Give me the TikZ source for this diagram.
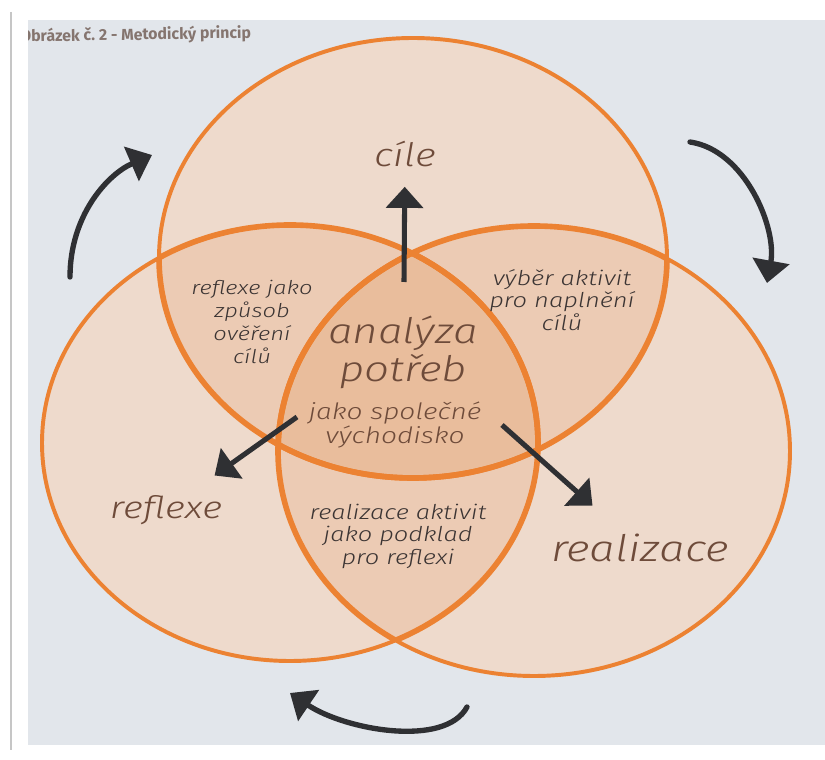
\documentclass[tikz,border=0pt]{standalone}
\usepackage{fontspec}
\usepackage[HTML]{xcolor}
\usepackage{tikz}
\usetikzlibrary{positioning, arrows.meta}

\newfontfamily\handfont{Fira Sans Light}
\newfontfamily\titlefont{Fira Sans}
\newcommand{\handsize}[2]{\handfont\itshape\fontsize{#1}{#2}\selectfont}

\definecolor{paper}{HTML}{E2E6EB}
\definecolor{onefill}{HTML}{EEDACC}
\definecolor{twofill}{HTML}{ECCBB4}
\definecolor{threefill}{HTML}{E9BD9C}
\definecolor{ringorange}{HTML}{EC8232}
\definecolor{inkbrown}{HTML}{6E4B3A}
\definecolor{inkgray}{HTML}{3B3433}
\definecolor{arrowgray}{HTML}{2F3033}
\definecolor{titlegray}{HTML}{85756F}

% the three rings
\newcommand{\goalring}{(cgoal) ellipse [x radius=254, y radius=220]}
\newcommand{\reflectring}{(creflect) ellipse [x radius=248, y radius=218]}
\newcommand{\realizering}{(crealize) ellipse [x radius=256, y radius=225]}

\begin{document}
\begin{tikzpicture}[x=0.025cm, y=-0.025cm,
  ringline/.style={draw=ringorange, line width=2.8pt},
  keyword/.style={text=inkbrown, xscale=1.25, inner sep=0pt, align=center},
  note/.style={text=inkgray, xscale=1.25, inner sep=0pt, align=center},
  pointer/.style={draw=arrowgray, line width=3.6pt, -{Triangle[length=15pt, width=26pt]}},
  turn/.style={draw=arrowgray, line width=3.8pt, line cap=round, -{Triangle[length=16pt, width=26pt]}}]

% Page and photo
\useasboundingbox (0,0) rectangle (825,760);
\fill[white] (0,0) rectangle (825,760);
\fill[paper] (28,20) rectangle (825,745);
\draw[gray!45, line width=0.8pt] (11,12) -- (11,750);

% Centres of the rings
\coordinate (cgoal) at (413,258);
\coordinate (creflect) at (290,443);
\coordinate (crealize) at (534,451);

% Fill the rings and their overlaps
\fill[onefill] \goalring \reflectring \realizering;
\begin{scope}
  \clip \goalring;
  \fill[twofill] \reflectring \realizering;
\end{scope}
\begin{scope}
  \clip \reflectring;
  \fill[twofill] \realizering;
\end{scope}
\begin{scope}
  \clip \goalring;
  \clip \reflectring;
  \fill[threefill] \realizering;
\end{scope}

% Outlines, heavier inside
\draw[ringline] \goalring \reflectring \realizering;
\begin{scope}
  \clip \goalring;
  \draw[ringline, line width=4pt] \reflectring \realizering;
\end{scope}
\begin{scope}
  \clip \reflectring;
  \draw[ringline, line width=4pt] \goalring \realizering;
\end{scope}
\begin{scope}
  \clip \realizering;
  \draw[ringline, line width=4pt] \goalring \reflectring;
\end{scope}

% Caption, cut at the edge of the photo
\begin{scope}
  \clip (28,20) rectangle (825,745);
  \node[anchor=base west, rotate=1, inner sep=0pt, text=titlegray,
    font=\titlefont\bfseries\fontsize{11.3}{13}\selectfont] (caption) at (20,42)
    {Obrázek č.~2 - Metodický princip};
\end{scope}

% Define the nodes
\node[keyword, font=\handsize{23}{26}] (goals) at (405,154) {cíle};
\node[keyword, font=\handsize{22}{25}] (reflect) at (166,510) {reflexe};
\node[keyword, font=\handsize{26}{29}] (realize) at (640,548) {realizace};
\node[keyword, font=\handsize{25}{27}] (needs) at (403,352) {analýza\\potřeb};
\node[keyword, font=\handsize{16}{17}] (common) at (395,425) {jako společné\\východisko};
\node[note, font=\handsize{13.5}{16.5}] (verify) at (252,322) {reflexe jako\\způsob\\ověření\\cílů};
\node[note, font=\handsize{14.5}{16}] (choose) at (562,300) {výběr aktivit\\pro naplnění\\cílů};
\node[note, font=\handsize{14.5}{16}] (basis) at (398,536) {realizace aktivit\\jako podklad\\pro reflexi};

% Draw the pointers out of the centre
\coordinate (upfoot) at (404,282);
\coordinate (leftfoot) at (297,417);
\coordinate (rightfoot) at (502,425);
\draw[pointer, shorten >=14pt] (upfoot) -- (goals);
\draw[pointer, shorten >=24pt] (leftfoot) -- (reflect);
\draw[pointer, shorten >=30pt] (rightfoot) -- (realize);

% The cycle round the rings
\coordinate (lefttail) at (70,277);
\coordinate (lefthead) at (152,155);
\coordinate (righttail) at (690,142);
\coordinate (righthead) at (767,283);
\coordinate (bottomtail) at (467,707);
\coordinate (bottomhead) at (290,693);
\draw[turn] (lefttail) .. controls (70,215) and (108,174) .. (lefthead);
\draw[turn] (righttail) .. controls (745,150) and (777,228) .. (righthead);
\draw[turn] (bottomtail) .. controls (445,748) and (345,730) .. (bottomhead);
\end{tikzpicture}
\end{document}
